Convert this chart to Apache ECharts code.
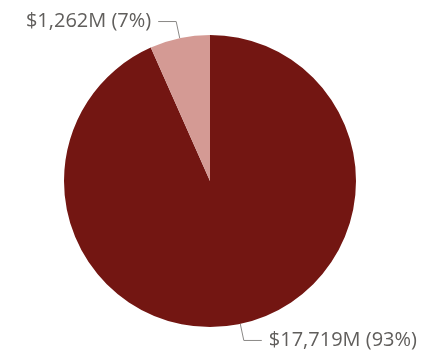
<!DOCTYPE html>
<html>
<head>
<meta charset="utf-8">
<script src="https://cdn.jsdelivr.net/npm/echarts@6/dist/echarts.min.js"></script>
<style>
  html, body { margin: 0; padding: 0; background: #fff; }
  #main { width: 423px; height: 354px; }
</style>
</head>
<body>
<div id="main"></div>
<script>
// slice values in $M, clockwise from the top
var names = ["Big", "Small"];
var values = [17719, 1262];
var colors = ["#731612", "#D49A94"];

var total = values.reduce(function(a, b) { return a + b; }, 0);

var pieData = names.map(function(n, i) {
    return { name: n, value: values[i], itemStyle: { color: colors[i] } };
});

var chart = echarts.init(document.getElementById("main"));
chart.setOption({
    animation: false,
    series: [{
        type: "pie",
        center: [210, 181],
        radius: [0, 146],
        startAngle: 90,
        clockwise: true,
        data: pieData,
        itemStyle: { borderWidth: 0 },
        label: {
            show: true,
            color: "#605E5C",
            fontFamily: "Open Sans",
            fontSize: 20,
            overflow: "none",
            distanceToLabelLine: 7,
            formatter: function(p) {
                var v = p.value.toLocaleString("en-US");
                return "$" + v + "M (" + Math.round(p.value / total * 100) + "%)";
            }
        },
        labelLine: {
            show: true,
            length: 17,
            length2: 18,
            lineStyle: { color: "#8A8886", width: 1 }
        }
    }]
});
</script>
</body>
</html>
